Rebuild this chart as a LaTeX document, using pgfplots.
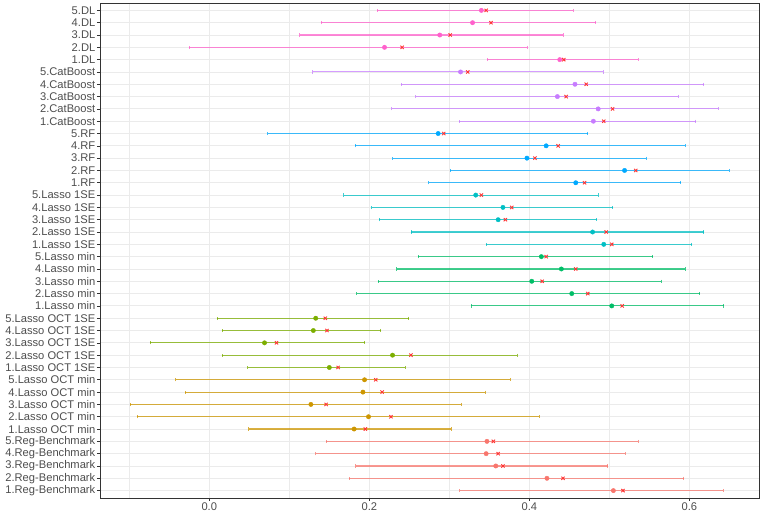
\documentclass[border=0pt]{standalone}
\usepackage{pgfplots}
\usepackage{pgfplotstable}
\pgfplotsset{compat=1.18}
\usepackage{fontspec}
\setmainfont{Liberation Sans}
\definecolor{cReg}{HTML}{F8766D}
\definecolor{cOCTmin}{HTML}{CD9600}
\definecolor{cOCTse}{HTML}{7CAE00}
\definecolor{cLmin}{HTML}{00BE67}
\definecolor{cLse}{HTML}{00BFC4}
\definecolor{cRF}{HTML}{00A9FF}
\definecolor{cCat}{HTML}{C77CFF}
\definecolor{cDL}{HTML}{FF61CC}
\definecolor{grid92}{HTML}{EBEBEB}
\definecolor{grey30}{HTML}{4D4D4D}
\definecolor{grey20}{HTML}{333333}

\pgfplotstableread{
y lo mid x hi
1 0.313 0.505 0.517 0.642
2 0.175 0.422 0.442 0.593
3 0.183 0.358 0.367 0.498
4 0.133 0.346 0.361 0.520
5 0.146 0.347 0.355 0.536
}\tReg
\pgfplotstableread{
y lo mid x hi
6 0.049 0.181 0.195 0.302
7 -0.090 0.199 0.227 0.412
8 -0.099 0.127 0.146 0.315
9 -0.030 0.192 0.216 0.345
10 -0.042 0.194 0.208 0.376
}\tOCTmin
\pgfplotstableread{
y lo mid x hi
11 0.048 0.150 0.161 0.245
12 0.016 0.229 0.252 0.385
13 -0.074 0.069 0.084 0.194
14 0.016 0.130 0.147 0.214
15 0.010 0.133 0.145 0.249
}\tOCTse
\pgfplotstableread{
y lo mid x hi
16 0.327 0.503 0.516 0.643
17 0.184 0.453 0.473 0.613
18 0.211 0.403 0.416 0.565
19 0.234 0.440 0.458 0.595
20 0.261 0.415 0.421 0.554
}\tLmin
\pgfplotstableread{
y lo mid x hi
21 0.346 0.493 0.503 0.603
22 0.252 0.479 0.496 0.618
23 0.212 0.361 0.370 0.484
24 0.203 0.367 0.378 0.504
25 0.168 0.333 0.340 0.486
}\tLse
\pgfplotstableread{
y lo mid x hi
26 0.274 0.458 0.469 0.589
27 0.301 0.519 0.533 0.650
28 0.229 0.397 0.407 0.546
29 0.182 0.421 0.436 0.595
30 0.073 0.286 0.293 0.473
}\tRF
\pgfplotstableread{
y lo mid x hi
31 0.312 0.480 0.493 0.608
32 0.228 0.486 0.504 0.636
33 0.258 0.435 0.446 0.586
34 0.240 0.457 0.471 0.618
35 0.129 0.314 0.323 0.492
}\tCat
\pgfplotstableread{
y lo mid x hi
36 0.347 0.438 0.443 0.536
37 -0.025 0.219 0.241 0.397
38 0.113 0.288 0.301 0.442
39 0.140 0.329 0.352 0.483
40 0.210 0.340 0.346 0.455
}\tDL

\newcommand{\grp}[2]{%
  \addplot[#2, only marks, mark=*, mark size=2.2bp, mark options={draw=#2, fill=#2},
    error bars/.cd, x dir=both, x explicit, error mark=|,
    error bar style={#2, draw opacity=0.75, line width=1.1pt},
    error mark options={#2, draw opacity=0.75, line width=0.8pt, mark size=1.6bp}]
    table[x=mid, y=y, x error plus expr=\thisrow{hi}-\thisrow{mid}, x error minus expr=\thisrow{mid}-\thisrow{lo}] {#1};
  \addplot[only marks, mark=x, mark size=2.3bp, red!80!white, line width=0.9pt] table[x=x, y=y] {#1};
}

\begin{document}
\begin{tikzpicture}
\begin{axis}[name=ax,
  scale only axis, width=659bp, height=495bp,
  xmin=-0.1366, xmax=0.687, ymin=0.4, ymax=40.6,
  xtick={0,0.2,0.4,0.6},
  xticklabels={0.0,0.2,0.4,0.6},
  minor xtick={-0.1,0.1,0.3,0.5},
  ytick={1,...,40},
  yticklabels={1.Reg-Benchmark,2.Reg-Benchmark,3.Reg-Benchmark,4.Reg-Benchmark,5.Reg-Benchmark,
    1.Lasso OCT min,2.Lasso OCT min,3.Lasso OCT min,4.Lasso OCT min,5.Lasso OCT min,
    1.Lasso OCT 1SE,2.Lasso OCT 1SE,3.Lasso OCT 1SE,4.Lasso OCT 1SE,5.Lasso OCT 1SE,
    1.Lasso min,2.Lasso min,3.Lasso min,4.Lasso min,5.Lasso min,
    1.Lasso 1SE,2.Lasso 1SE,3.Lasso 1SE,4.Lasso 1SE,5.Lasso 1SE,
    1.RF,2.RF,3.RF,4.RF,5.RF,
    1.CatBoost,2.CatBoost,3.CatBoost,4.CatBoost,5.CatBoost,
    1.DL,2.DL,3.DL,4.DL,5.DL},
  xmajorgrids, xminorgrids, ymajorgrids,
  major grid style={grid92, line width=0.9pt},
  minor grid style={grid92, line width=0.45pt},
  tick align=outside, major tick length=3bp, minor tick length=0pt,
  tick style={grey20, line width=0.6pt},
  xtick pos=bottom, ytick pos=left,
  axis line style={grey20, line width=0.8pt},
  ticklabel style={font=\fontsize{11.2}{12}\selectfont, text=grey30},
  yticklabel style={inner sep=1.5bp},
  xticklabel style={inner sep=2bp},
  clip=true,
]
\grp{\tReg}{cReg}
\grp{\tOCTmin}{cOCTmin}
\grp{\tOCTse}{cOCTse}
\grp{\tLmin}{cLmin}
\grp{\tLse}{cLse}
\grp{\tRF}{cRF}
\grp{\tCat}{cCat}
\grp{\tDL}{cDL}
\end{axis}
\pgfresetboundingbox
\path ([xshift=-100bp,yshift=-20bp]ax.south west) rectangle ([xshift=3bp,yshift=3bp]ax.north east);
\end{tikzpicture}
\end{document}
